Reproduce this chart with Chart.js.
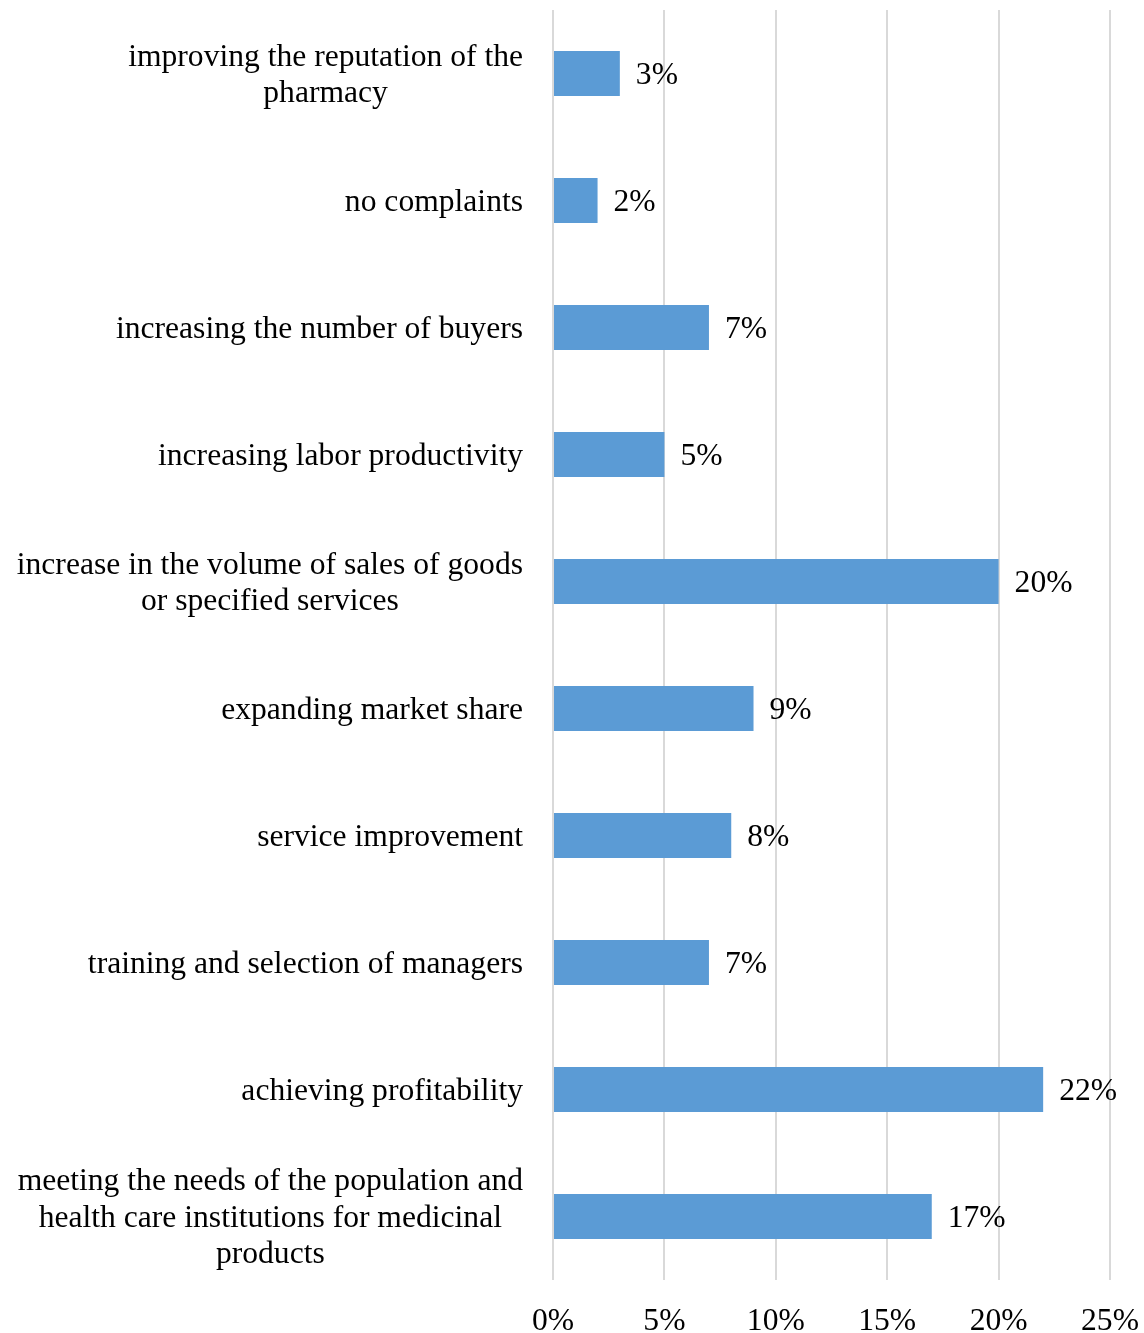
<!DOCTYPE html>
<html>
<head>
<meta charset="utf-8">
<script src="https://cdn.jsdelivr.net/npm/chart.js@4/dist/chart.umd.min.js"></script>
<style>
  html, body { margin: 0; padding: 0; background: #ffffff; overflow: hidden; }
  #wrap { width: 1144px; height: 1333px; position: relative; }
</style>
</head>
<body>
<div id="wrap"><canvas id="chart"></canvas></div>
<script>
// Survey categories, top to bottom; multi-line labels are arrays of lines
const categories = [
  ["improving the reputation of the", "pharmacy"],
  ["no complaints"],
  ["increasing the number of buyers"],
  ["increasing labor productivity"],
  ["increase in the volume of sales of goods", "or specified services"],
  ["expanding market share"],
  ["service improvement"],
  ["training and selection of managers"],
  ["achieving profitability"],
  ["meeting the needs of the population and", "health care institutions for medicinal", "products"]
];

// Share of respondents, percent
const shares = [3, 2, 7, 5, 20, 9, 8, 7, 22, 17];

// Horizontal axis tick values, percent
const xTicks = [0, 5, 10, 15, 20, 25];

const FONT_FAMILY = '"Liberation Serif", "Times New Roman", serif';
const FONT_SIZE = 31.6;
const LINE_HEIGHT = 36.5;

// Category labels: block right-aligned next to the plot, lines centred within the block
const categoryLabels = {
  id: 'categoryLabels',
  afterDraw(chart) {
    const ctx = chart.ctx;
    const yScale = chart.scales.y;
    const right = chart.chartArea.left - 30;
    ctx.save();
    ctx.font = FONT_SIZE + 'px ' + FONT_FAMILY;
    ctx.fillStyle = '#000000';
    ctx.textAlign = 'center';
    ctx.textBaseline = 'middle';
    categories.forEach((lines, i) => {
      const cy = yScale.getPixelForValue(i) + 2;
      const w = Math.max(...lines.map(l => ctx.measureText(l).width));
      const cx = right - w / 2;
      const top = cy - (lines.length - 1) * LINE_HEIGHT / 2;
      lines.forEach((l, k) => ctx.fillText(l, cx, top + k * LINE_HEIGHT));
    });
    ctx.restore();
  }
};

// Value labels to the right of each bar
const valueLabels = {
  id: 'valueLabels',
  afterDatasetsDraw(chart) {
    const ctx = chart.ctx;
    const meta = chart.getDatasetMeta(0);
    ctx.save();
    ctx.font = FONT_SIZE + 'px ' + FONT_FAMILY;
    ctx.fillStyle = '#000000';
    ctx.textAlign = 'left';
    ctx.textBaseline = 'middle';
    meta.data.forEach((bar, i) => {
      ctx.fillText(shares[i] + '%', bar.x + 16, bar.y + 2);
    });
    ctx.restore();
  }
};

new Chart(document.getElementById('chart'), {
  type: 'bar',
  data: {
    labels: categories,
    datasets: [{
      data: shares,
      backgroundColor: '#5B9BD5',
      borderWidth: 0,
      barPercentage: 0.354,
      categoryPercentage: 1.0
    }]
  },
  options: {
    indexAxis: 'y',
    responsive: true,
    maintainAspectRatio: false,
    animation: false,
    layout: { padding: { left: 553, right: 34, top: 10, bottom: 0 } },
    plugins: {
      legend: { display: false },
      tooltip: { enabled: false }
    },
    scales: {
      x: {
        position: 'bottom',
        min: 0,
        max: 25,
        afterBuildTicks(scale) {
          scale.ticks = xTicks.map(v => ({ value: v }));
        },
        afterFit(scale) {
          scale.height = 53;
          scale.paddingLeft = 0;
          scale.paddingRight = 0;
        },
        ticks: {
          callback: v => v + '%',
          color: '#000000',
          font: { family: FONT_FAMILY, size: FONT_SIZE, lineHeight: 1.2 },
          padding: 23,
          maxRotation: 0,
          autoSkip: false
        },
        grid: { color: '#d9d9d9', lineWidth: 2, drawTicks: false },
        border: { display: false }
      },
      y: {
        display: false,
        grid: { display: false }
      }
    }
  },
  plugins: [categoryLabels, valueLabels]
});
</script>
</body>
</html>
